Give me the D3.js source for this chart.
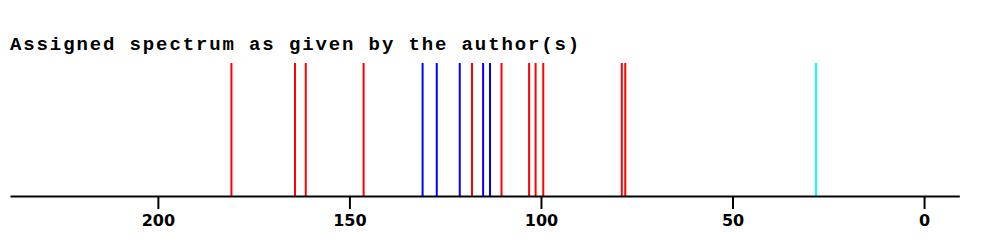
<!DOCTYPE html>
<html>
<head>
<meta charset="utf-8">
<script src="https://cdn.jsdelivr.net/npm/d3@7"></script>
<style>
  body { margin: 0; background: #fff; }
  svg { display: block; }
</style>
</head>
<body>
<svg id="canvas"></svg>
<script>
const width = 993;
const height = 249;

// chemical shifts (ppm), grouped by the colour they're drawn in
const redShifts = [180.8, 164.2, 161.4, 146.3, 118.0, 110.3, 103.1, 101.4, 99.4, 78.9, 78.0];
const blueShifts = [130.9, 127.2, 121.2, 115.1, 113.3];
const cyanShifts = [28.2];
const tickLabels = [200, 150, 100, 50, 0];

const svg = d3.select("#canvas")
  .attr("width", width)
  .attr("height", height);

svg.append("text")
  .attr("x", 10)
  .attr("y", 50)
  .attr("font-family", "'Liberation Mono', 'Courier New', monospace")
  .attr("font-weight", "bold")
  .attr("font-size", 19)
  .attr("letter-spacing", "1.88px")
  .attr("fill", "#000")
  .text("Assigned spectrum as given by the author(s)");

// ppm axis runs right to left
const x = d3.scaleLinear()
  .domain([238.6, -9.2])
  .range([10, 959.3]);

const baseY = 196;
const topY = 63;

const peaks = [
  ...redShifts.map(v => ({ v, c: "#ff0000" })),
  ...blueShifts.map(v => ({ v, c: "#0000ff" })),
  ...cyanShifts.map(v => ({ v, c: "#00ffff" }))
];

svg.append("g")
  .selectAll("line")
  .data(peaks)
  .enter()
  .append("line")
  .attr("x1", d => x(d.v))
  .attr("x2", d => x(d.v))
  .attr("y1", topY)
  .attr("y2", baseY)
  .attr("stroke", d => d.c)
  .attr("stroke-width", 2);

const axis = svg.append("g")
  .attr("transform", `translate(0,${baseY})`)
  .call(d3.axisBottom(x)
    .tickValues(tickLabels)
    .tickSize(13)
    .tickSizeOuter(0)
    .tickPadding(6)
    .tickFormat(d3.format("d")));

axis.select(".domain")
  .attr("stroke", "#000")
  .attr("stroke-width", 2);

axis.selectAll(".tick line")
  .attr("stroke", "#000")
  .attr("stroke-width", 2);

axis.selectAll(".tick text")
  .attr("fill", "#000")
  .style("font-family", "'DejaVu Sans', sans-serif")
  .style("font-weight", "bold")
  .style("font-size", "16px");
</script>
</body>
</html>
